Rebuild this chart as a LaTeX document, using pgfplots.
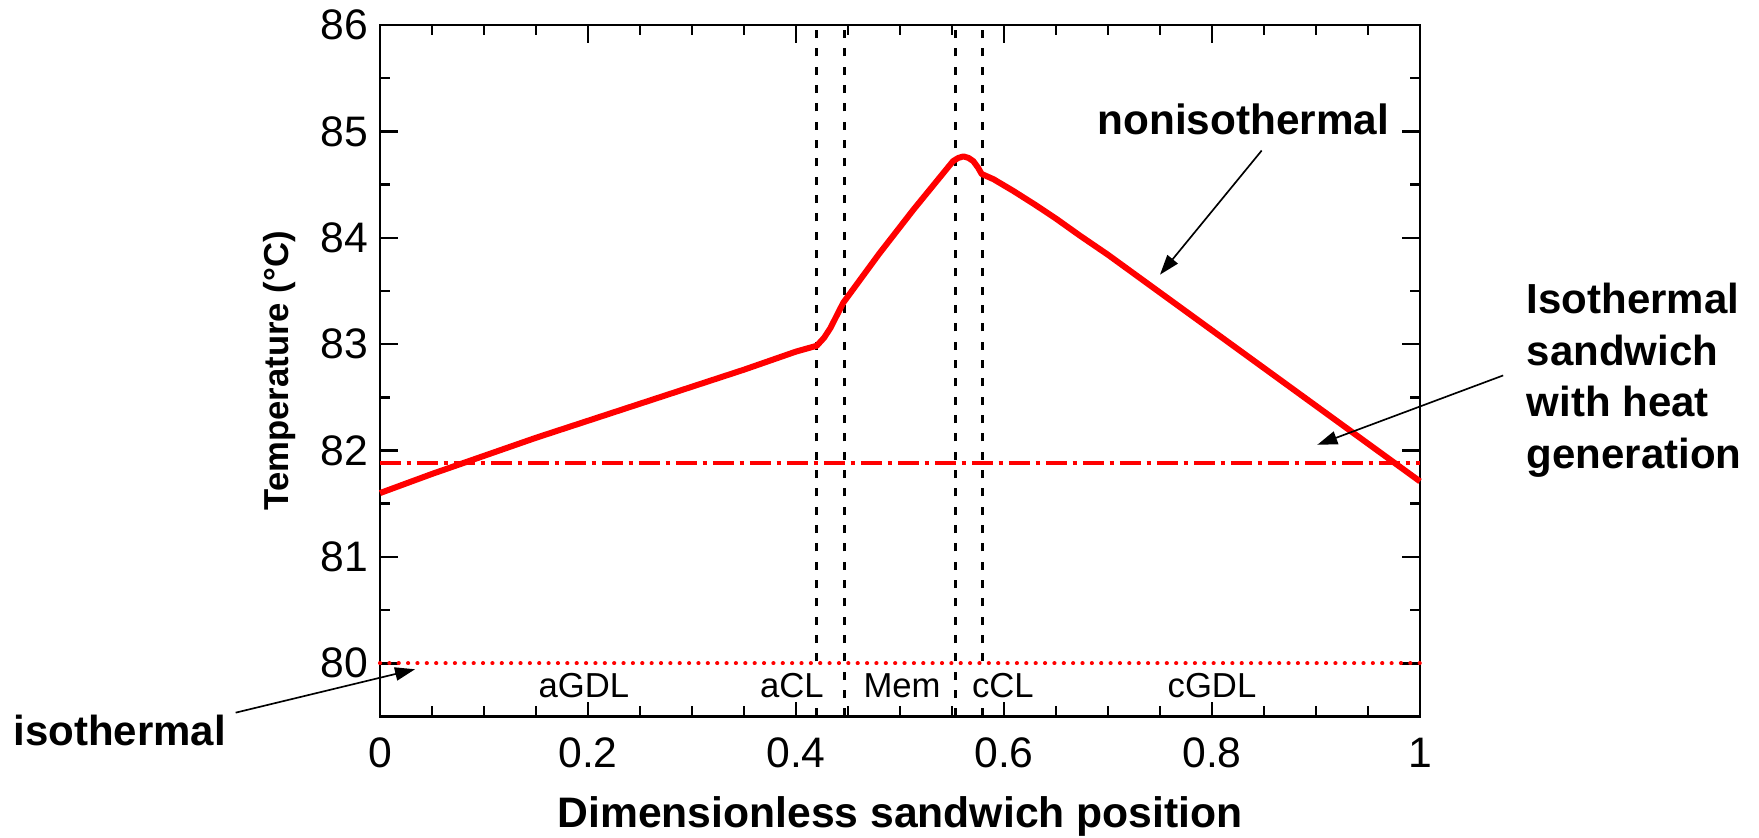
\documentclass[border=0pt]{standalone}
\usepackage{fontspec}
\setmainfont{Liberation Sans}
\usepackage{pgfplots}
\pgfplotsset{compat=1.18}
\usetikzlibrary{arrows.meta}

\begin{document}
\begin{tikzpicture}
\path[use as bounding box] (-114pt,-36.45pt) rectangle (413.7pt,214.95pt);
\begin{axis}[
  at={(0,0)}, anchor=south west,
  scale only axis, width=312pt, height=207.45pt,
  xmin=0, xmax=1, ymin=79.5, ymax=86,
  xtick={0,0.2,0.4,0.6,0.8,1}, xticklabels={0,0.2,0.4,0.6,0.8,1},
  minor x tick num=3,
  ytick={80,81,82,83,84,85,86}, yticklabels={80,81,82,83,84,85,86},
  minor y tick num=1,
  tick align=inside,
  major tick length=5.4pt, minor tick length=3pt,
  tick style={black, line width=0.75pt},
  axis line style={line width=0.8pt},
  tick label style={font=\fontsize{12.8}{14}\selectfont, inner sep=0pt},
  xticklabel style={anchor=north, yshift=-6.3pt},
  yticklabel style={anchor=east, xshift=-3.4pt},
  clip=false,
]
% layer boundaries
\addplot[black, line width=0.95pt, dash pattern=on 2.4pt off 3.1pt] coordinates {(0.42,79.5) (0.42,86)};
\addplot[black, line width=0.95pt, dash pattern=on 2.4pt off 3.1pt] coordinates {(0.447,79.5) (0.447,86)};
\addplot[black, line width=0.95pt, dash pattern=on 2.4pt off 3.1pt] coordinates {(0.553,79.5) (0.553,86)};
\addplot[black, line width=0.95pt, dash pattern=on 2.4pt off 3.1pt] coordinates {(0.579,79.5) (0.579,86)};
% isothermal
\addplot[red, line width=1.25pt, line cap=round, dash pattern=on 0.01pt off 2.8pt] coordinates {(0,80) (1,80)};
% isothermal with heat generation
\addplot[red, line width=1.15pt, dash pattern=on 6.2pt off 1.8pt on 1.3pt off 1.8pt] coordinates {(0,81.88) (1,81.88)};
% nonisothermal
\addplot[red, line width=1.8pt, line join=round] coordinates {
 (0,81.60) (0.05,81.78) (0.1,81.95) (0.15,82.12) (0.2,82.28) (0.25,82.44)
 (0.3,82.60) (0.35,82.76) (0.4,82.93) (0.42,82.985) (0.427,83.06) (0.433,83.15)
 (0.4455,83.39) (0.48,83.85) (0.513,84.265) (0.551,84.72) (0.556,84.75)
 (0.561,84.765) (0.566,84.75) (0.5705,84.72) (0.575,84.66) (0.5785,84.60)
 (0.59,84.55) (0.609,84.44) (0.63,84.31) (0.65,84.18) (0.673,84.02) (0.7,83.84)
 (1.0,81.71)};

\node[anchor=base, fill=white, inner sep=1pt, font=\fontsize{10.4}{12}\selectfont] at (axis cs:0.196,79.674) {aGDL};
\node[anchor=base, fill=white, inner sep=1pt, font=\fontsize{10.4}{12}\selectfont] at (axis cs:0.396,79.674) {aCL};
\node[anchor=base, fill=white, inner sep=1pt, font=\fontsize{10.4}{12}\selectfont] at (axis cs:0.502,79.674) {Mem};
\node[anchor=base, fill=white, inner sep=1pt, font=\fontsize{10.4}{12}\selectfont] at (axis cs:0.599,79.674) {cCL};
\node[anchor=base, fill=white, inner sep=1pt, font=\fontsize{10.4}{12}\selectfont] at (axis cs:0.80,79.674) {cGDL};

\draw[-{Triangle[length=6pt,width=4pt]}, line width=0.5pt] (axis cs:0.8478,84.82) -- (axis cs:0.75,83.653);
\draw[-{Triangle[length=6pt,width=4pt]}, line width=0.5pt] (axis cs:-0.1388,79.536) -- (axis cs:0.0337,79.944);
\draw[-{Triangle[length=6pt,width=4pt]}, line width=0.5pt] (axis cs:1.080,82.706) -- (axis cs:0.9013,82.054);

\node[anchor=base east, inner sep=0pt, font=\bfseries\fontsize{12.7}{15}\selectfont] at (axis cs:0.971,84.97) {nonisothermal};
\node[anchor=base west, inner sep=0pt, font=\bfseries\fontsize{12.6}{15}\selectfont] at (axis cs:-0.353,79.232) {isothermal};
\node[anchor=north west, inner sep=0pt, align=left, font=\bfseries\fontsize{12.6}{15.45}\selectfont] at (axis cs:1.102,83.578) {Isothermal\\sandwich\\with heat\\generation};

\node[rotate=90, inner sep=0pt, font=\bfseries\fontsize{10.4}{12}\selectfont] at (rel axis cs:-0.0962,0.5) {Temperature (°C)};
\node[anchor=base, inner sep=0pt, font=\bfseries\fontsize{12.8}{15}\selectfont] at (rel axis cs:0.5,-0.16124) {Dimensionless sandwich position};
\end{axis}
\end{tikzpicture}
\end{document}
